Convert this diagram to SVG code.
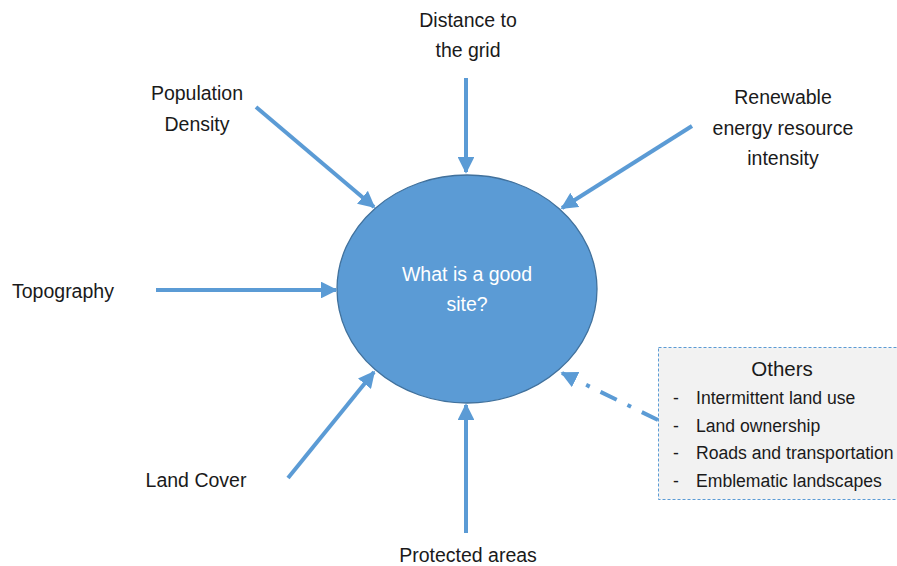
<svg xmlns="http://www.w3.org/2000/svg" width="897" height="566" viewBox="0 0 897 566">
<style>
text{font-family:"Liberation Sans",Arial,sans-serif;font-size:19.5px;fill:#1a1a1a}
.c{text-anchor:middle}
.w{fill:#ffffff}
.l{font-size:17.6px}
.a{stroke:#5b9bd5;stroke-width:4;fill:none}
</style>
<defs>
<marker id="ah" viewBox="0 0 10 10" refX="9" refY="5" markerWidth="4.2" markerHeight="4.2" orient="auto" markerUnits="strokeWidth">
<path d="M0,0 L10,5 L0,10 z" fill="#5b9bd5"/>
</marker>
</defs>
<rect width="897" height="566" fill="#ffffff"/>
<g id="center">
<ellipse cx="467" cy="289" rx="130" ry="114" fill="#5b9bd5" stroke="#41719c" stroke-width="1.3"/>
<text class="c w" x="467" y="281">What is a good</text>
<text class="c w" x="467" y="311">site?</text>
</g>
<g id="grid"><text class="c" x="468" y="27">Distance to</text><text class="c" x="468" y="57">the grid</text></g>
<g id="population"><text class="c" x="197" y="100">Population</text><text class="c" x="197" y="131">Density</text></g>
<g id="renewable"><text class="c" x="783" y="104">Renewable</text><text class="c" x="783" y="135">energy resource</text><text class="c" x="783" y="165">intensity</text></g>
<g id="topography"><text x="12" y="298">Topography</text></g>
<g id="landcover"><text class="c" x="196" y="487">Land Cover</text></g>
<g id="protected"><text class="c" x="468" y="562">Protected areas</text></g>
<g id="others">
<rect x="658.5" y="347.5" width="245" height="152" fill="#f2f2f2" stroke="#5b9bd5" stroke-width="1" stroke-dasharray="3,2"/>
<text class="c" x="782" y="376" style="font-size:20.5px">Others</text>
<text class="l" x="673" y="404">-</text><text class="l" x="696" y="404">Intermittent land use</text>
<text class="l" x="673" y="432">-</text><text class="l" x="696" y="432">Land ownership</text>
<text class="l" x="673" y="459">-</text><text class="l" x="696" y="459">Roads and transportation</text>
<text class="l" x="673" y="487">-</text><text class="l" x="696" y="487">Emblematic landscapes</text>
</g>
<g id="connectors">
<line class="a" x1="466" y1="78" x2="466" y2="172" marker-end="url(#ah)"/>
<line class="a" x1="256" y1="107" x2="374" y2="207" marker-end="url(#ah)"/>
<line class="a" x1="692" y1="126" x2="562" y2="208" marker-end="url(#ah)"/>
<line class="a" x1="156" y1="290" x2="336" y2="290" marker-end="url(#ah)"/>
<line class="a" x1="288" y1="478" x2="374" y2="372" marker-end="url(#ah)"/>
<line class="a" x1="466" y1="533" x2="466" y2="405" marker-end="url(#ah)"/>
<line class="a" x1="658" y1="420" x2="562" y2="373" stroke-dasharray="18,12,4,12" marker-end="url(#ah)"/>
</g>
</svg>
